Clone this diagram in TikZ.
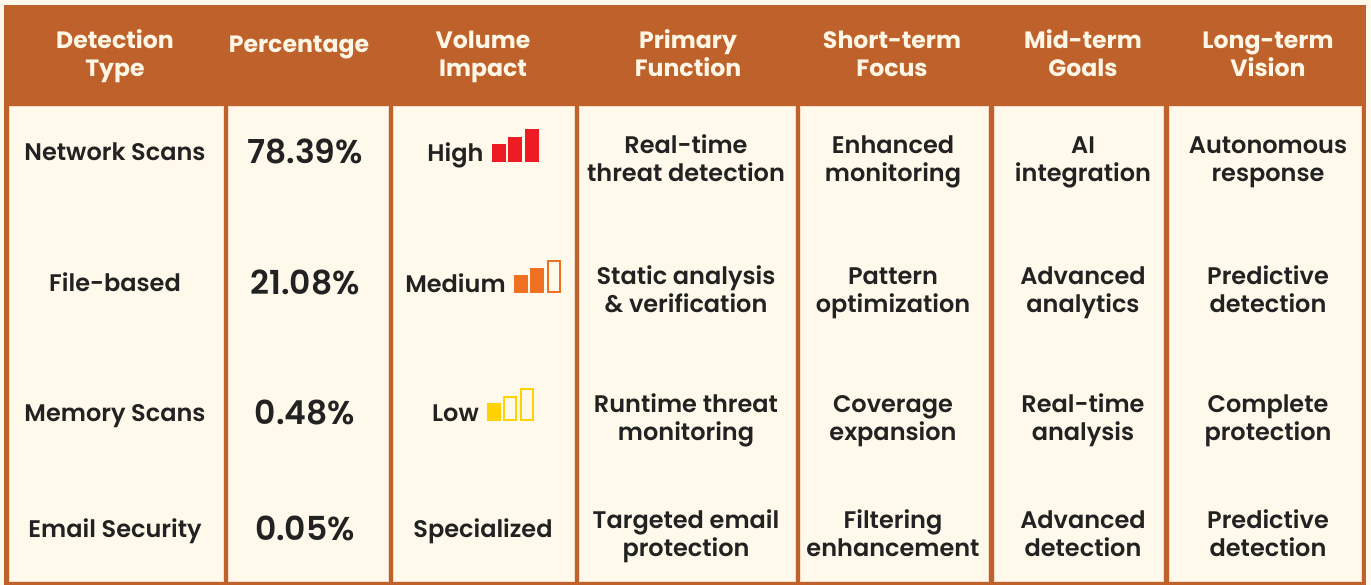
\documentclass[tikz,border=0pt]{standalone}
\usepackage{fontspec}
\setmainfont{Poppins}[BoldFont={Poppins SemiBold}]
\newfontfamily\headfam{Poppins}
\usetikzlibrary{calc}
\definecolor{rust}{HTML}{BE612A}
\definecolor{cream}{HTML}{FEF9EB}
\definecolor{cellrim}{HTML}{F6DCC4}
\definecolor{ink}{HTML}{222222}
\definecolor{headtxt}{HTML}{FFF6E6}
\definecolor{hired}{HTML}{ED1C24}
\definecolor{medor}{HTML}{EF7022}
\definecolor{lowyel}{HTML}{FFD200}
% two struted lines, so every two-line cell has the same box
\newcommand\twoln[2]{\strut#1\\\strut#2}
\tikzset{
  cellbg/.style={fill=cream, draw=cellrim, line width=0.8pt},
  headt/.style={font=\headfam\fontsize{23.6}{28.5}\selectfont\bfseries, text=headtxt, align=center, inner sep=0pt},
  cellt/.style={font=\fontsize{24}{28.5}\selectfont\bfseries, text=ink, align=center, inner sep=0pt},
  pctt/.style={font=\fontsize{33}{38}\selectfont\bfseries, text=ink, inner sep=0pt, anchor=base},
  oneln/.style={anchor=base},
  solidbar/.style={fill=#1},
  hollowbar/.style={draw=#1, line width=2pt}
}
\begin{document}
\begin{tikzpicture}[x=1pt,y=-1pt]
\useasboundingbox (0,0) rectangle (1371,585);
\fill[cream] (0,0) rectangle (1371,585);
% table frame and header band
\fill[rust] (4,5) rectangle (1366,585);
% column panels
\path[cellbg] (9,106) rectangle (223,581);
\path[cellbg] (228,106) rectangle (388,581);
\path[cellbg] (393,106) rectangle (574,581);
\path[cellbg] (579,106) rectangle (795,581);
\path[cellbg] (800,106) rectangle (988,581);
\path[cellbg] (994,106) rectangle (1163,581);
\path[cellbg] (1169,106) rectangle (1361,581);

% header
\node[headt] (h1) at (115,57) {\twoln{Detection}{Type}};
\node[headt, oneln] (h2) at (299,53) {Percentage};
\node[headt] (h3) at (483,57) {\twoln{Volume}{Impact}};
\node[headt] (h4) at (688,57) {\twoln{Primary}{Function}};
\node[headt] (h5) at (892,57) {\twoln{Short-term}{Focus}};
\node[headt] (h6) at (1083,57) {\twoln{Mid-term}{Goals}};
\node[headt] (h7) at (1268,57) {\twoln{Long-term}{Vision}};

% detection type
\node[cellt, oneln] (t1) at (115,161) {Network Scans};
\node[cellt, oneln] (t2) at (115,292) {File-based};
\node[cellt, oneln] (t3) at (115,421) {Memory Scans};
\node[cellt, oneln] (t4) at (115,537) {Email Security};

% percentage
\node[pctt] (p1) at (305,164) {78.39\%};
\node[pctt] (p2) at (305,295) {21.08\%};
\node[pctt] (p3) at (305,424) {0.48\%};
\node[pctt] (p4) at (305,540) {0.05\%};

% volume impact: label followed by a three-step bar gauge
\node[cellt, oneln] (v1) at (483,162) {High\hspace{55pt}};
\node[cellt, oneln] (v2) at (483,293) {Medium\hspace{55pt}};
\node[cellt, oneln] (v3) at (483,421) {Low\hspace{55pt}};
\node[cellt, oneln] (v4) at (483,537) {Specialized};

\fill[solidbar=hired] ($(v1.base east)+(-47,0)$) rectangle ++(14,-18);
\fill[solidbar=hired] ($(v1.base east)+(-31,0)$) rectangle ++(14,-25);
\fill[solidbar=hired] ($(v1.base east)+(-14,0)$) rectangle ++(14,-33);

\fill[solidbar=medor] ($(v2.base east)+(-47,0)$) rectangle ++(14,-18);
\fill[solidbar=medor] ($(v2.base east)+(-31,0)$) rectangle ++(14,-25);
\draw[hollowbar=medor] ($(v2.base east)+(-13,-1)$) rectangle ++(12,-31);

\fill[solidbar=lowyel] ($(v3.base east)+(-47,0)$) rectangle ++(14,-18);
\draw[hollowbar=lowyel] ($(v3.base east)+(-30,-1)$) rectangle ++(12,-23);
\draw[hollowbar=lowyel] ($(v3.base east)+(-13,-1)$) rectangle ++(12,-31);

% primary function
\node[cellt] (f1) at (686,162) {\twoln{Real-time}{threat detection}};
\node[cellt] (f2) at (686,293) {\twoln{Static analysis}{\& verification}};
\node[cellt] (f3) at (686,421) {\twoln{Runtime threat}{monitoring}};
\node[cellt] (f4) at (686,537) {\twoln{Targeted email}{protection}};

% short-term focus
\node[cellt] (s1) at (893,162) {\twoln{Enhanced}{monitoring}};
\node[cellt] (s2) at (893,293) {\twoln{Pattern}{optimization}};
\node[cellt] (s3) at (893,421) {\twoln{Coverage}{expansion}};
\node[cellt] (s4) at (893,537) {\twoln{Filtering}{enhancement}};

% mid-term goals
\node[cellt] (m1) at (1083,162) {\twoln{AI}{integration}};
\node[cellt] (m2) at (1083,293) {\twoln{Advanced}{analytics}};
\node[cellt] (m3) at (1083,421) {\twoln{Real-time}{analysis}};
\node[cellt] (m4) at (1083,537) {\twoln{Advanced}{detection}};

% long-term vision
\node[cellt] (l1) at (1268,162) {\twoln{Autonomous}{response}};
\node[cellt] (l2) at (1268,293) {\twoln{Predictive}{detection}};
\node[cellt] (l3) at (1268,421) {\twoln{Complete}{protection}};
\node[cellt] (l4) at (1268,537) {\twoln{Predictive}{detection}};
\end{tikzpicture}
\end{document}
